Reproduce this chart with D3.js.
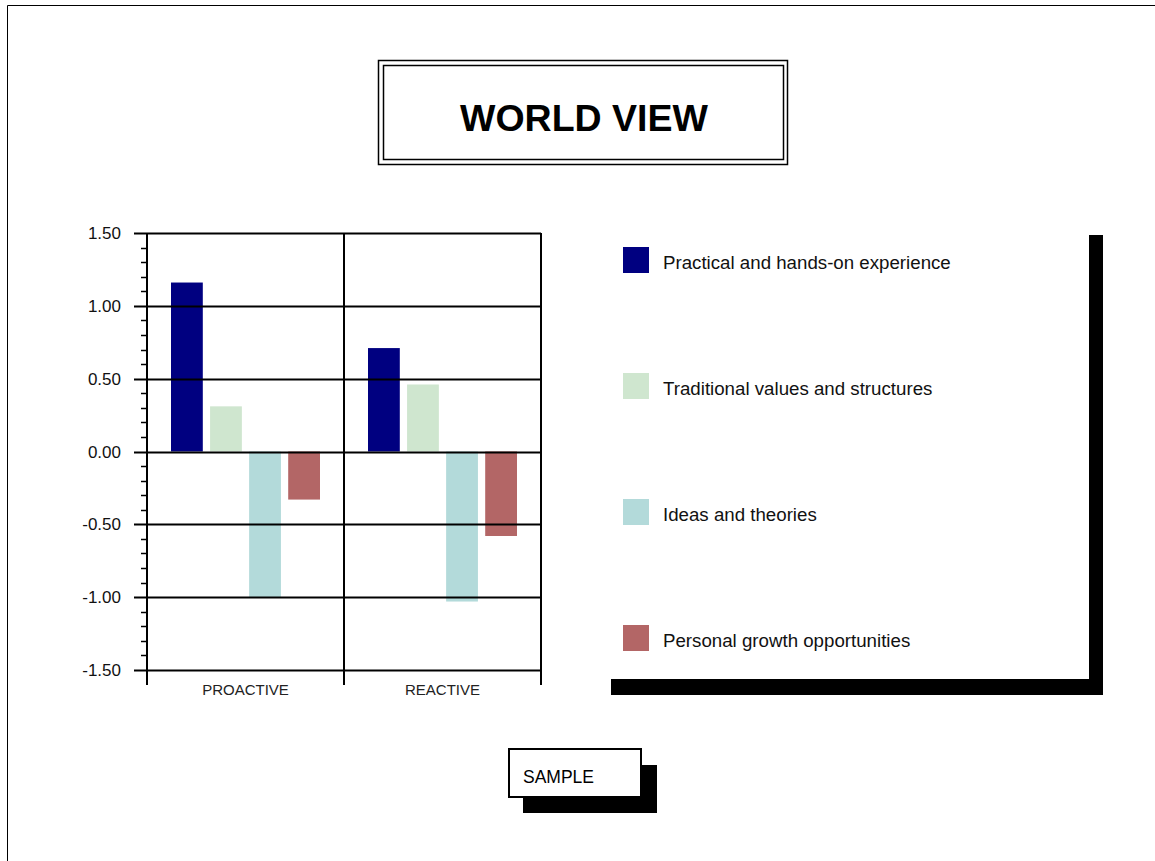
<!DOCTYPE html>
<html>
<head>
<meta charset="utf-8">
<script src="https://cdn.jsdelivr.net/npm/d3@7"></script>
<style>
  html, body { margin: 0; padding: 0; background: #fff; }
  svg { display: block; }
  text { font-family: "Liberation Sans", Arial, sans-serif; }
</style>
</head>
<body>
<svg id="chart" width="1155" height="861"></svg>
<script>
const categories = ["PROACTIVE", "REACTIVE"];
const seriesNames = [
  "Practical and hands-on experience",
  "Traditional values and structures",
  "Ideas and theories",
  "Personal growth opportunities"
];
const seriesColors = ["#000080", "#cfe6cf", "#b3dada", "#b36666"];
const proactiveValues = [1.16, 0.31, -1.00, -0.33];
const reactiveValues = [0.71, 0.46, -1.03, -0.58];
const yTicks = [-1.5, -1.0, -0.5, 0.0, 0.5, 1.0, 1.5];
const titleText = "WORLD VIEW";
const footerText = "SAMPLE";

const valuesByCategory = [proactiveValues, reactiveValues];

const svg = d3.select("#chart");

// page border (top and left)
svg.append("path")
  .attr("d", "M7.5,861 L7.5,5.5 L1155,5.5")
  .attr("fill", "none").attr("stroke", "#000").attr("stroke-width", 1);

// Title box (double frame)
svg.append("rect").attr("x", 378.5).attr("y", 60.5).attr("width", 409).attr("height", 104)
  .attr("fill", "none").attr("stroke", "#000").attr("stroke-width", 1.5);
svg.append("rect").attr("x", 383.5).attr("y", 65.5).attr("width", 400).attr("height", 94)
  .attr("fill", "none").attr("stroke", "#000").attr("stroke-width", 1.5);
svg.append("text").attr("x", 584).attr("y", 131)
  .attr("text-anchor", "middle").attr("font-size", 37.5).attr("font-weight", "bold")
  .attr("fill", "#000").text(titleText);

// Plot
const plotLeft = 147, plotRight = 541, plotTop = 233, plotBottom = 670;
const x0 = d3.scaleBand().domain(categories).range([plotLeft, plotRight]);
const x1 = d3.scaleBand().domain(seriesNames).range([24, x0.bandwidth() - 24])
  .paddingInner(0.186).paddingOuter(0);
const y = d3.scaleLinear().domain([-1.5, 1.5]).range([plotBottom, plotTop]);
const color = d3.scaleOrdinal().domain(seriesNames).range(seriesColors);

const g = svg.append("g");

// bars
categories.forEach((cat, ci) => {
  g.selectAll(null).data(valuesByCategory[ci]).enter().append("rect")
    .attr("x", (d, i) => x0(cat) + x1(seriesNames[i]))
    .attr("width", x1.bandwidth())
    .attr("y", d => Math.min(y(d), y(0)))
    .attr("height", d => Math.abs(y(d) - y(0)))
    .attr("fill", (d, i) => color(seriesNames[i]));
});

// horizontal gridlines
g.selectAll(null).data(yTicks).enter().append("line")
  .attr("x1", plotLeft - 13).attr("x2", plotRight)
  .attr("y1", d => Math.round(y(d)) + 0.5).attr("y2", d => Math.round(y(d)) + 0.5)
  .attr("stroke", "#000").attr("stroke-width", 2);

// minor ticks
const minor = d3.range(-14, 15).map(i => i / 10).filter(v => Math.abs(Math.round(v * 2) - v * 2) > 1e-6);
g.selectAll(null).data(minor).enter().append("line")
  .attr("x1", plotLeft - 6).attr("x2", plotLeft)
  .attr("y1", d => Math.round(y(d)) + 0.5).attr("y2", d => Math.round(y(d)) + 0.5)
  .attr("stroke", "#000").attr("stroke-width", 1.5);

// vertical lines (axis, separators, right edge) extending below
const vlines = [plotLeft, x0(categories[1]), plotRight];
g.selectAll(null).data(vlines).enter().append("line")
  .attr("x1", d => d).attr("x2", d => d)
  .attr("y1", plotTop).attr("y2", plotBottom + 15)
  .attr("stroke", "#000").attr("stroke-width", 2);

// y labels
g.selectAll(null).data(yTicks).enter().append("text")
  .attr("x", 121).attr("y", d => y(d) + 6)
  .attr("text-anchor", "end").attr("font-size", 17).attr("fill", "#111")
  .text(d => d3.format(".2f")(d).replace("−", "-"));

// category labels
g.selectAll(null).data(categories).enter().append("text")
  .attr("x", d => x0(d) + x0.bandwidth() / 2).attr("y", 695)
  .attr("text-anchor", "middle").attr("font-size", 15).attr("fill", "#222")
  .text(d => d);

// Legend shadow
svg.append("rect").attr("x", 1089).attr("y", 235).attr("width", 14).attr("height", 460).attr("fill", "#000");
svg.append("rect").attr("x", 611).attr("y", 679).attr("width", 492).attr("height", 16).attr("fill", "#000");

// Legend entries
const legendY = d3.scalePoint().domain(seriesNames).range([247, 625]);
const lg = svg.append("g");
lg.selectAll(null).data(seriesNames).enter().append("rect")
  .attr("x", 623).attr("y", d => legendY(d)).attr("width", 26).attr("height", 26)
  .attr("fill", d => color(d));
lg.selectAll(null).data(seriesNames).enter().append("text")
  .attr("x", 663).attr("y", d => legendY(d) + 22)
  .attr("font-size", 18.7).attr("fill", "#111")
  .text(d => d);

// SAMPLE box with shadow
svg.append("rect").attr("x", 523).attr("y", 765).attr("width", 134).attr("height", 48).attr("fill", "#000");
svg.append("rect").attr("x", 509).attr("y", 749).attr("width", 132).attr("height", 48)
  .attr("fill", "#fff").attr("stroke", "#000").attr("stroke-width", 2);
svg.append("text").attr("x", 523).attr("y", 783).attr("font-size", 17.5).attr("fill", "#000")
  .text(footerText);
</script>
</body>
</html>
